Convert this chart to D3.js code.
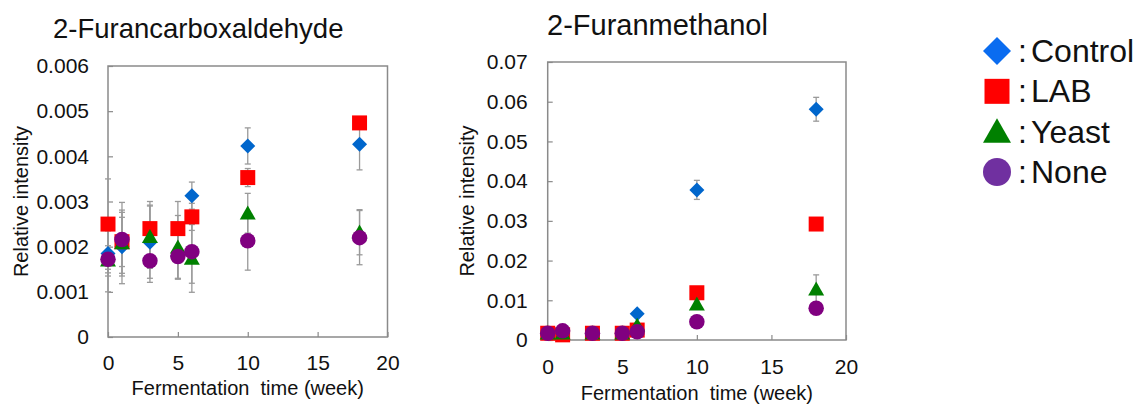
<!DOCTYPE html>
<html>
<head>
<meta charset="utf-8">
<script src="https://cdn.jsdelivr.net/npm/d3@7"></script>
<style>
  body { margin: 0; background: #fff; }
  text { font-family: "Liberation Sans", Arial, sans-serif; fill: #111; white-space: pre; }
</style>
</head>
<body>
<script>
// weeks sampled
const weeks = [0, 1, 3, 5, 6, 10, 18];
const seriesNames = ["Control", "LAB", "Yeast", "None"];

// 2-Furancarboxaldehyde
const furalControl = [0.00185, 0.0020, 0.0021, 0.0018, 0.00313, 0.00423, 0.00427];
const furalLAB     = [0.0025, 0.00211, 0.0024, 0.0024, 0.00266, 0.00353, 0.00474];
const furalYeast   = [0.0017, 0.00208, 0.00222, 0.00199, 0.00174, 0.00274, 0.00232];
const furalNone    = [0.00172, 0.00216, 0.00169, 0.00178, 0.00189, 0.00213, 0.0022];
const furalControlErr = [0.0005, 0.00065, 0.0008, 0.0005, 0.0003, 0.0004, 0.00057];
const furalLABErr     = [0.001, 0.0007, 0.0006, 0.0006, 0.0003, 0.0002, 0.0001];
const furalYeastErr   = [0.0007, 0.0009, 0.0007, 0.0007, 0.00075, 0.00044, 0.0005];
const furalNoneErr    = [0.0003, 0.0006, 0.00048, 0.0005, 0.0007, 0.00065, 0.0006];
const furalTicks = [0, 0.001, 0.002, 0.003, 0.004, 0.005, 0.006];

// 2-Furanmethanol
const methControl = [0.0017, 0.0017, 0.0017, 0.0017, 0.0066, 0.0378, 0.0581];
const methLAB     = [0.0017, 0.0013, 0.0017, 0.0017, 0.0025, 0.0119, 0.0292];
const methYeast   = [0.0017, 0.0017, 0.0017, 0.0017, 0.0037, 0.0090, 0.0128];
const methNone    = [0.0017, 0.0023, 0.0017, 0.0017, 0.0021, 0.0046, 0.0080];
const methControlErr = [0.0002, 0.0002, 0.0002, 0.0002, 0.0005, 0.0024, 0.003];
const methLABErr     = [0.0002, 0.0002, 0.0002, 0.0002, 0.0003, 0.0006, 0.0008];
const methYeastErr   = [0.0002, 0.0002, 0.0002, 0.0002, 0.0004, 0.0008, 0.0036];
const methNoneErr    = [0.0002, 0.0002, 0.0002, 0.0002, 0.0003, 0.0005, 0.0006];
const methTicks = [0, 0.01, 0.02, 0.03, 0.04, 0.05, 0.06, 0.07];

const xTicks = [0, 5, 10, 15, 20];

const W = 1142, H = 406;
const svg = d3.select("body").append("svg")
    .attr("width", W)
    .attr("height", H);

const colors = { Control: "#0066cc", LAB: "#ff0000", Yeast: "#008000", None: "#800080" };
const legendColors = { Control: "#0a6cf0", LAB: "#ff0000", Yeast: "#008000", None: "#7030a0" };
const shapes = { Control: "diamond", LAB: "square", Yeast: "triangle", None: "circle" };

// marker path centred on 0,0
function markerPath(shape, s) {
    const h = s / 2;
    if (shape === "diamond") return `M0,${-h}L${h},0L0,${h}L${-h},0Z`;
    if (shape === "square") return `M${-h},${-h}H${h}V${h}H${-h}Z`;
    if (shape === "triangle") {
        const th = s * 0.87;
        return `M0,${-th * 0.55}L${h},${th * 0.45}L${-h},${th * 0.45}Z`;
    }
    return `M${-h},0A${h},${h} 0 1,1 ${h},0A${h},${h} 0 1,1 ${-h},0Z`;
}
const markerSize = { diamond: 15, square: 15, triangle: 16, circle: 15.5 };

function drawPanel(cfg) {
    const x = d3.scaleLinear().domain([0, 20]).range([cfg.left, cfg.right]);
    const y = d3.scaleLinear().domain([0, cfg.yMax]).range([cfg.bottom, cfg.top]);
    const g = svg.append("g");

    // frame
    g.append("rect")
        .attr("x", cfg.left).attr("y", cfg.top)
        .attr("width", cfg.right - cfg.left).attr("height", cfg.bottom - cfg.top)
        .attr("fill", "none").attr("stroke", "#8a8a8a").attr("stroke-width", 1.5);

    const yAxis = g.append("g")
        .attr("transform", `translate(${cfg.left},0)`)
        .call(d3.axisLeft(y).tickValues(cfg.ticks).tickSize(-5).tickPadding(cfg.yPad)
            .tickFormat(d => d === 0 ? "0" : d3.format(cfg.fmt)(d)));
    const xAxis = g.append("g")
        .attr("transform", `translate(0,${cfg.bottom})`)
        .call(d3.axisBottom(x).tickValues(xTicks).tickSize(-5).tickPadding(cfg.xPad));
    [yAxis, xAxis].forEach(a => {
        a.select(".domain").remove();
        a.selectAll("line").attr("stroke", "#8a8a8a").attr("stroke-width", 1.2);
        a.selectAll("text").attr("font-size", 21).attr("fill", "#111")
            .attr("font-family", "Liberation Sans, Arial, sans-serif");
    });

    // titles
    g.append("text").attr("x", cfg.titleX).attr("y", cfg.titleY)
        .attr("font-size", cfg.titleSize).text(cfg.title);
    g.append("text").attr("x", (cfg.left + cfg.right) / 2).attr("y", cfg.xTitleY)
        .attr("text-anchor", "middle").attr("font-size", 20)
        .text("Fermentation  time (week)");
    g.append("text")
        .attr("transform", `translate(${cfg.yTitleX},${(cfg.top + cfg.bottom) / 2}) rotate(-90)`)
        .attr("text-anchor", "middle").attr("font-size", 20)
        .text("Relative intensity");

    // error bars first, then markers on top
    const errG = g.append("g").attr("stroke", "#9a9a9a").attr("stroke-width", 1.3);
    cfg.series.forEach(s => {
        weeks.forEach((w, i) => {
            const cx = x(w), hi = y(s.values[i] + s.err[i]), lo = y(s.values[i] - s.err[i]);
            errG.append("line").attr("x1", cx).attr("x2", cx).attr("y1", hi).attr("y2", lo);
            errG.append("line").attr("x1", cx - 3).attr("x2", cx + 3).attr("y1", hi).attr("y2", hi);
            errG.append("line").attr("x1", cx - 3).attr("x2", cx + 3).attr("y1", lo).attr("y2", lo);
        });
    });
    cfg.series.forEach(s => {
        const shape = shapes[s.name];
        g.append("g").selectAll("path")
            .data(weeks.map((w, i) => ({ w: w, v: s.values[i] })))
            .enter().append("path")
            .attr("d", markerPath(shape, markerSize[shape]))
            .attr("transform", d => `translate(${x(d.w)},${y(d.v)})`)
            .attr("fill", colors[s.name]);
    });
}

drawPanel({
    title: "2-Furancarboxaldehyde", titleX: 53, titleY: 38, titleSize: 27.5,
    left: 108, right: 387.5, top: 66, bottom: 337,
    yMax: 0.006, ticks: furalTicks, fmt: ".3f", yPad: 19, xPad: 18,
    xTitleY: 395, yTitleX: 28,
    series: [
        { name: "Control", values: furalControl, err: furalControlErr },
        { name: "LAB", values: furalLAB, err: furalLABErr },
        { name: "Yeast", values: furalYeast, err: furalYeastErr },
        { name: "None", values: furalNone, err: furalNoneErr }
    ]
});

drawPanel({
    title: "2-Furanmethanol", titleX: 547, titleY: 35, titleSize: 29,
    left: 547.7, right: 846, top: 62, bottom: 340,
    yMax: 0.07, ticks: methTicks, fmt: ".2f", yPad: 20, xPad: 19,
    xTitleY: 400, yTitleX: 474,
    series: [
        { name: "Control", values: methControl, err: methControlErr },
        { name: "LAB", values: methLAB, err: methLABErr },
        { name: "Yeast", values: methYeast, err: methYeastErr },
        { name: "None", values: methNone, err: methNoneErr }
    ]
});

// legend
const legendY = d3.scalePoint().domain(seriesNames).range([51, 172]);
const legend = svg.append("g");
const legendSize = { diamond: 28, square: 25, triangle: 28, circle: 28 };
seriesNames.forEach(n => {
    const cy = legendY(n);
    legend.append("path")
        .attr("d", markerPath(shapes[n], legendSize[shapes[n]]))
        .attr("transform", `translate(997,${cy})`)
        .attr("fill", legendColors[n]);
    legend.append("text").attr("x", 1018).attr("y", cy + 11)
        .attr("font-size", 32).text(":");
    legend.append("text").attr("x", 1031).attr("y", cy + 11)
        .attr("font-size", 32).text(n);
});
</script>
</body>
</html>
